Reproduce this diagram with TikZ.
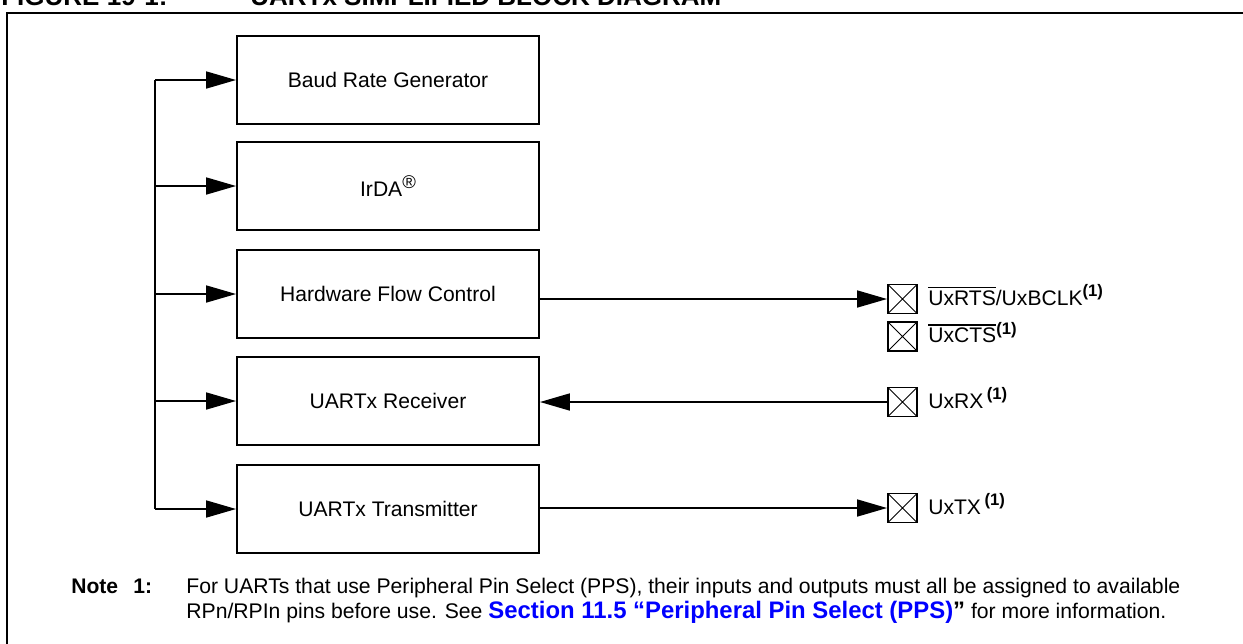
\documentclass[tikz,border=0pt]{standalone}
\usepackage{fontspec}
\setmainfont{Liberation Sans}
\usetikzlibrary{arrows.meta}
\definecolor{linkblue}{RGB}{0,0,255}
\newcommand\ovbar[1]{\leavevmode\vbox{\hrule height 0.7pt\kern 1.2pt\hbox{#1}}}
\newcommand\fnref{\raisebox{0.38em}{\fontsize{9.5}{11}\selectfont\bfseries(1)}}
\begin{document}
\begin{tikzpicture}[x=0.02cm,y=-0.02cm,
  blk/.style={draw,line width=1.1pt,minimum width=6.04cm,minimum height=1.76cm,inner sep=0,font=\fontsize{12}{14}\selectfont},
  pin/.style={draw,line width=1.1pt,minimum size=0.58cm,inner sep=0,
    path picture={\draw[line width=0.5pt] (path picture bounding box.north west) -- (path picture bounding box.south east)
      (path picture bounding box.south west) -- (path picture bounding box.north east);}},
  lbl/.style={anchor=base west,inner sep=0,font=\fontsize{12}{14}\selectfont},
  txt/.style={anchor=base west,inner sep=0,font=\fontsize{12.05}{14}\selectfont},
  ttl/.style={anchor=base west,inner sep=0,font=\fontsize{14.8}{16}\selectfont\bfseries},
  arr/.style={line width=1.1pt,-{Triangle[length=17pt,width=9.6pt]}},
  wire/.style={line width=1.1pt}]
\useasboundingbox (0,0) rectangle (1243,643);
% frame
\draw[line width=1.2pt] (7,660) -- (7,13) -- (1260,13);
% title (clipped at top, as in the reference)
\node[ttl] (t1) at (1,5) {FIGURE 19-1:};
\node[ttl] (t2) at (250,5) {UARTx SIMPLIFIED BLOCK DIAGRAM};
% blocks
\node[blk] (baud) at (388,80) {Baud Rate Generator};
\node[blk] (irda) at (388,186) {IrDA\raisebox{0.42em}{\fontsize{10.5}{12}\selectfont\textregistered}};
\node[blk] (hfc) at (388,294) {Hardware Flow Control};
\node[blk] (rx) at (388,401) {UARTx Receiver};
\node[blk] (tx) at (388,509) {UARTx Transmitter};
% bus
\coordinate (b1) at (155,80);
\coordinate (b2) at (155,186);
\coordinate (b3) at (155,294);
\coordinate (b4) at (155,401);
\coordinate (b5) at (155,509);
\draw[wire] (b1) -- (b5);
\draw[arr] (b1) -- (baud.west);
\draw[arr] (b2) -- (irda.west);
\draw[arr] (b3) -- (hfc.west);
\draw[arr] (b4) -- (rx.west);
\draw[arr] (b5) -- (tx.west);
% pins
\node[pin] (prts) at (902.5,299) {};
\node[pin] (pcts) at (902.5,336.5) {};
\node[pin] (prx) at (902.5,402) {};
\node[pin] (ptx) at (902.5,508) {};
\draw[arr] (hfc.east |- prts) -- (prts.west);
\draw[arr] (prx.west) -- (rx.east |- prx);
\draw[arr] (tx.east |- ptx) -- (ptx.west);
% pin labels
\node[lbl] (lrts) at ([xshift=0.2cm,yshift=-0.12cm]prts.east) {\ovbar{UxRTS}/UxBCLK\fnref};
\node[lbl] (lcts) at ([xshift=0.2cm,yshift=-0.12cm]pcts.east) {\ovbar{UxCTS}\fnref};
\node[lbl] (lrx) at ([xshift=0.2cm,yshift=-0.12cm]prx.east) {UxRX\,\fnref};
\node[lbl] (ltx) at ([xshift=0.2cm,yshift=-0.12cm]ptx.east) {UxTX\,\fnref};
% note
\node[txt,font=\fontsize{12}{14}\selectfont\bfseries] (nt) at (71,593) {Note};
\node[txt,font=\fontsize{12}{14}\selectfont\bfseries] (n1) at (133,593) {1:};
\node[txt] (l1) at (186,593) {For UARTs that use Peripheral Pin Select (PPS), their inputs and outputs must all be assigned to available};
\node[txt] (l2) at (186,618) {RPn/RPIn pins before use. See {\fontsize{13.6}{14}\selectfont\bfseries\textcolor{linkblue}{Section 11.5 “Peripheral Pin Select (PPS)}”} for more information.};
\end{tikzpicture}
\end{document}
